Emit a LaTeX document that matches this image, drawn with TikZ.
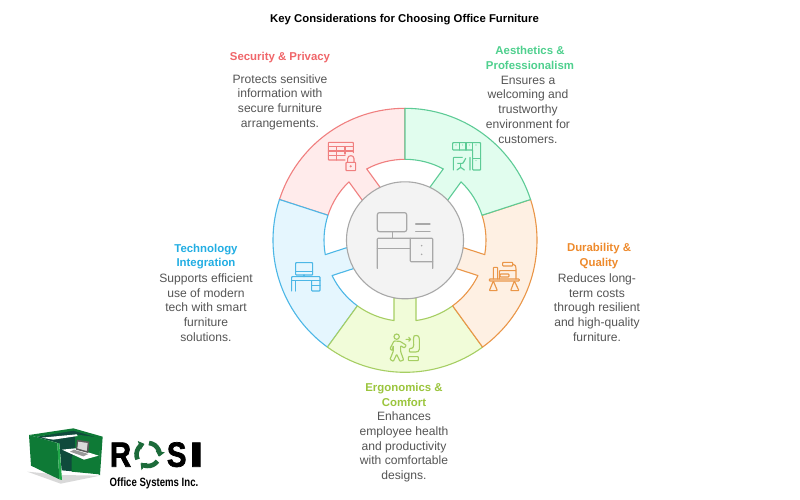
\documentclass[tikz,border=0pt]{standalone}
\usepackage{fontspec}
\setmainfont{Liberation Sans}
\newfontfamily\logofont[UprightFont=* Bold,FakeBold=2]{Liberation Sans}
\usetikzlibrary{arrows.meta}
\definecolor{redS}{HTML}{F07F7F}\definecolor{redF}{HTML}{FFEBEB}\definecolor{redT}{HTML}{F0666A}
\definecolor{grnS}{HTML}{5DCB96}\definecolor{grnF}{HTML}{E1FDEE}\definecolor{grnT}{HTML}{4FD08E}
\definecolor{orgS}{HTML}{EA9648}\definecolor{orgF}{HTML}{FEF0E3}\definecolor{orgT}{HTML}{EE8A2C}
\definecolor{limS}{HTML}{A6CE63}\definecolor{limF}{HTML}{F1FCD9}\definecolor{limT}{HTML}{9BC53D}
\definecolor{bluS}{HTML}{4CB7E6}\definecolor{bluF}{HTML}{E5F6FE}\definecolor{bluT}{HTML}{22AEE3}
\definecolor{hubF}{HTML}{F3F3F3}\definecolor{hubS}{HTML}{A8A8A8}
\definecolor{bodyT}{HTML}{555555}
\definecolor{cubG}{HTML}{0E7A36}\definecolor{cubD}{HTML}{0F4A3C}\definecolor{cubB}{HTML}{22A94A}\definecolor{rosiG}{HTML}{1C6B3A}
\tikzset{
  seg/.style={line width=1.1pt,line join=round},
  icon/.style={line width=1.15pt,line cap=round,line join=round,rounded corners=0.7pt},
  head/.style={inner sep=0pt,align=center,font=\fontsize{11.4}{14.6}\selectfont\bfseries},
  body/.style={inner sep=0pt,align=center,text=bodyT,font=\fontsize{12.1}{14.7}\selectfont},
  logotext/.style={inner sep=0pt,transform shape,font=\fontsize{35}{35}\logofont,text=black}
}
\begin{document}
\begin{tikzpicture}[x=1pt,y=-1pt]
\useasboundingbox (0,0) rectangle (800,500);
\fill[white] (0,0) rectangle (800,500);
\node[inner sep=0pt,font=\fontsize{11.35}{13}\selectfont\bfseries,text=black] (title) at (404.5,20) {Key Considerations for Choosing Office Furniture};
% ring
\begin{scope}[shift={(405,240.3)},y=1pt]
\foreach \c/\f/\s in {126/redF/redS,198/bluF/bluS,270/limF/limS,342/orgF/orgS,54/grnF/grnS}{
  \draw[seg,fill=\f,draw=\s]
    ({\c+36}:132) arc[start angle={\c+36},end angle={\c-36},radius=132]
    -- ({\c-36}:81) arc[start angle={\c-36},end angle={\c-7.8},radius=81]
    -- ({\c-10.84}:58.5) -- ({\c+10.84}:58.5)
    -- ({\c+7.8}:81) arc[start angle={\c+7.8},end angle={\c+36},radius=81] -- cycle;
}
\node[circle,minimum size=117pt,inner sep=0pt,fill=hubF,draw=hubS,line width=1.1pt] (hub) at (0,0) {};
\end{scope}
% hub icon
\begin{scope}[shift={(365,200)},scale=1/3,icon,draw=hubS,line width=1.2pt]
\draw[rounded corners=2pt] (37,38) rectangle (125,95);
\draw (82,95) -- (82,115);
\draw (37,205) -- (37,115) -- (203,115) -- (203,205);
\draw (37,145) -- (136,145);
\draw (136,115) -- (136,185) -- (203,185);
\draw (152,72) -- (195,72) (152,95) -- (195,95);
\fill[hubS] (170,137) circle (2.6) (170,163) circle (2.6);
\end{scope}
% red icon
\begin{scope}[shift={(320,130)},scale=1/3,icon,draw=redS]
\draw (75,90) -- (25,90) -- (25,37) -- (100,37) -- (100,68);
\draw (25,50) -- (100,50) (25,63) -- (100,63) (25,77) -- (75,77);
\draw (50,50) -- (50,90) (75,50) -- (75,72);
\draw (78,97) rectangle (107,122);
\draw (83,97) -- (83,88) .. controls (83,74) and (102,74) .. (102,88) -- (102,97);
\fill[redS] (92,109) circle (3.5);
\end{scope}
% green icon
\begin{scope}[shift={(445,130)},scale=1/3,icon,draw=grnS]
\draw (83,60) -- (23,60) -- (23,38) -- (107,38) -- (107,120) -- (83,120) -- cycle;
\draw (43,38) -- (43,60) (63,38) -- (63,60) (83,38) -- (83,60) (83,85) -- (107,85);
\fill[grnS] (33,45) circle (1.6) (53,45) circle (1.6) (73,45) circle (1.6) (93,45) circle (1.6) (93,92) circle (1.6);
\draw (25,120) -- (25,82) -- (52,82) (75,82) -- (75,120);
\draw (62,85) -- (54,100) -- (38,100) (47,100) -- (47,112) (36,120) -- (47,112) -- (58,120);
\end{scope}
% orange icon
\begin{scope}[shift={(480,255)},scale=1/3,icon,draw=orgS]
\draw (28,78) -- (28,72) -- (118,72) -- (118,78) -- cycle;
\draw (40,78) -- (28,107) -- (52,107) -- cycle (103,78) -- (92,107) -- (117,107) -- cycle;
\draw (40,72) -- (40,37) -- (53,37) -- (53,72);
\draw (68,22) -- (98,22) -- (98,33) -- (68,33) -- cycle;
\draw (98,27) .. controls (106,27) and (108,34) .. (108,47) -- (108,72) (58,72) -- (58,47) -- (108,47);
\draw (60,57) rectangle (87,66);
\end{scope}
% blue icon
\begin{scope}[shift={(260,95)},scale=1/3,icon,draw=bluS]
\draw (107,503) rectangle (158,540);
\draw (107,530) -- (158,530) (132,540) -- (132,545);
\draw (95,588) -- (95,545) -- (180,545) -- (180,588) -- (155,588) -- (155,557);
\draw (95,557) -- (180,557) (106,557) -- (106,588) (155,572) -- (180,572);
\end{scope}
% lime icon
\begin{scope}[shift={(280,250)},scale=1/3,icon,draw=limS]
\draw (350,260) circle (8);
\draw (342,273) -- (360,274) -- (379,286) -- (373,294) -- (362,287) -- (362,305) -- (371,330) -- (360,334) -- (350,313) -- (340,334) -- (330,328) -- (340,303) -- (340,287) -- (336,302) -- (330,296) -- cycle;
\draw (378,268) -- (392,268) (386,262) -- (392,268) -- (386,274);
\draw (402,258) .. controls (412,254) and (418,258) .. (418,270) -- (418,296) .. controls (418,304) and (412,306) .. (405,306) -- (388,306) -- (388,296) -- (398,294) .. controls (404,284) and (398,270) .. (402,258);
\draw (385,320) rectangle (415,332);
\end{scope}
% labels
\node[head,text=redT] (h1) at (280,58) {Security \& Privacy};
\node[body] (b1) at (280,102) {Protects sensitive\\information with\\secure furniture\\arrangements.};
\node[head,text=grnT] (h2) at (530,58) {Aesthetics \&\\Professionalism};
\node[body] (b2) at (528,109.5) {Ensures a\\welcoming and\\trustworthy\\environment for\\customers.};
\node[head,text=orgT] (h3) at (599,256) {Durability \&\\Quality};
\node[body] (b3) at (597,307.5) {Reduces long-\\term costs\\through resilient\\and high-quality\\furniture.};
\node[head,text=limT] (h4) at (404,395) {Ergonomics \&\\Comfort};
\node[body] (b4) at (404,447) {Enhances\\employee health\\and productivity\\with comfortable\\designs.};
\node[head,text=bluT] (h5) at (206,256.5) {Technology\\Integration};
\node[body] (b5) at (206,307.5) {Supports efficient\\use of modern\\tech with smart\\furniture\\solutions.};
% logo cubicle
\begin{scope}[shift={(20,425)},scale=1/3]
\fill[black!15] (22,140) -- (122,176) -- (240,152) -- (125,150) -- cycle;
\fill[cubD] (48,36) -- (160,14) -- (240,36) -- (236,146) -- (125,136) -- (118,55) -- cycle;
\fill[cubG] (165,28) -- (240,38) -- (238,148) -- (155,140) -- (155,100) -- (165,72) -- cycle;
\fill[cubG] (27,30) -- (160,10) -- (248,35) -- (240,150) -- (236,148) -- (240,40) -- (160,17) -- (48,36) -- (118,55) -- cycle;
\fill[cubG] (27,30) -- (112,54) -- (118,163) -- (33,122) -- cycle;
\fill[cubB] (112,54) -- (118,55) -- (126,165) -- (118,163) -- cycle;
\fill[white] (65,38) -- (170,28) -- (173,33) -- (100,44) -- cycle;
\fill[white] (126,74) -- (166,70) -- (236,92) -- (192,104) -- cycle;
\fill[black!65] (171,44) -- (208,50) -- (205,84) -- (168,74) -- cycle;
\fill[black!15] (175,50) -- (203,54) -- (200,78) -- (172,70) -- cycle;
\fill[black!40] (162,74) -- (205,87) -- (190,94) -- (150,80) -- cycle;
\end{scope}
% logo wordmark
\node[logotext,xscale=.84,anchor=base] (logoR) at (120.5,466.7) {R};
\node[logotext,xscale=.84,anchor=base] (logoS) at (176.7,466.7) {S};
\node[logotext,xscale=1.5,anchor=base] (logoI) at (196.4,466.7) {I};
\begin{scope}[shift={(148,454.5)},y=1pt,line width=4.6pt,draw=rosiG]
\draw[-{Triangle[length=5pt,width=9pt]}] (205:11.5) arc[start angle=205,end angle=110,radius=11.5];
\draw[-{Triangle[length=5pt,width=9pt]}] (85:11.5) arc[start angle=85,end angle=-10,radius=11.5];
\draw[-{Triangle[length=5pt,width=9pt]}] (-35:11.5) arc[start angle=-35,end angle=-130,radius=11.5];
\end{scope}
\node[inner sep=0pt,transform shape,xscale=.8,font=\fontsize{12}{12}\selectfont\bfseries,text=black] (logoSub) at (154,483) {Office Systems Inc.};
\end{tikzpicture}
\end{document}
